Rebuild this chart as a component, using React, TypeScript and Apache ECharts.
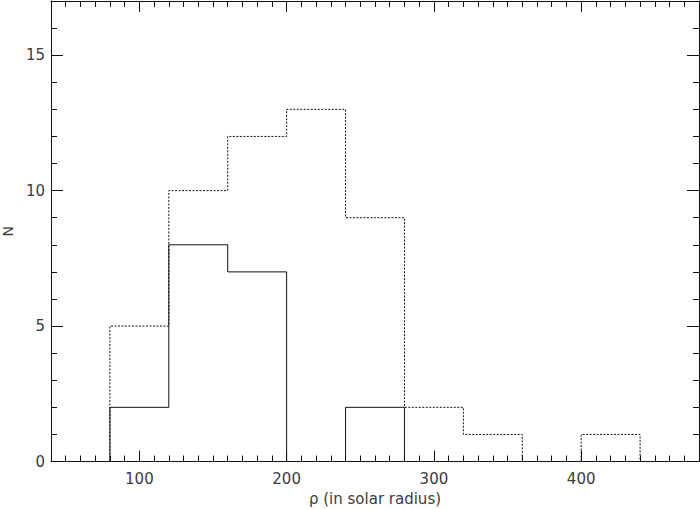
import React, { useEffect, useRef } from "react";
import * as echarts from "echarts";

// Histogram bin edges (solar radius) and counts
const binEdges = [80, 120, 160, 200, 240, 280, 320, 360, 400, 440];
const dottedCounts = [5, 10, 12, 13, 9, 2, 1, 0, 1];
const solidCounts = [2, 8, 7, 0, 2];

const xMajorTicks = [100, 200, 300, 400];
const xMinorTicks = [50, 60, 70, 80, 90, 110, 120, 130, 140, 150, 160, 170, 180, 190, 210, 220, 230, 240, 250, 260, 270, 280, 290, 310, 320, 330, 340, 350, 360, 370, 380, 390, 410, 420, 430, 440, 450, 460, 470];
const yMajorTicks = [0, 5, 10, 15];
const yMinorTicks = [1, 2, 3, 4, 6, 7, 8, 9, 11, 12, 13, 14, 16, 17];

const X_MIN = 40;
const X_MAX = 480;
const Y_MIN = 0;
const Y_MAX = 17;

function outline(edges: number[], counts: number[]): number[][] {
  const pts: number[][] = [[edges[0], 0]];
  counts.forEach((c, i) => {
    pts.push([edges[i], c]);
    pts.push([edges[i + 1], c]);
  });
  pts.push([edges[counts.length], 0]);
  return pts;
}

const FONT = "DejaVu Sans";
const TEXT = "#3c3c3c";
const AXIS = "#111";

function xAx(position: "top" | "bottom", major: boolean, main: boolean) {
  return {
    type: "value",
    position,
    min: X_MIN,
    max: X_MAX,
    splitLine: { show: false },
    axisLine: { show: major, onZero: false, lineStyle: { color: AXIS, width: 1 } },
    axisTick: {
      show: true,
      inside: true,
      length: major ? 11 : 6,
      customValues: major ? xMajorTicks : xMinorTicks,
      lineStyle: { color: AXIS, width: 1 },
    },
    axisLabel: main
      ? { show: true, customValues: xMajorTicks, margin: 10, color: TEXT, fontFamily: FONT, fontSize: 15 }
      : { show: false },
    name: main ? "ρ (in solar radius)" : "",
    nameLocation: "middle",
    nameGap: 30,
    nameTextStyle: { color: TEXT, fontFamily: FONT, fontSize: 15 },
  };
}

function yAx(position: "left" | "right", major: boolean, main: boolean) {
  return {
    type: "value",
    position,
    min: Y_MIN,
    max: Y_MAX,
    splitLine: { show: false },
    axisLine: { show: major, onZero: false, lineStyle: { color: AXIS, width: 1 } },
    axisTick: {
      show: true,
      inside: true,
      length: major ? 12 : 6,
      customValues: major ? yMajorTicks : yMinorTicks,
      lineStyle: { color: AXIS, width: 1 },
    },
    axisLabel: main
      ? { show: true, customValues: yMajorTicks, margin: 6, color: TEXT, fontFamily: FONT, fontSize: 15 }
      : { show: false },
    name: main ? "N" : "",
    nameLocation: "middle",
    nameGap: 35,
    nameTextStyle: { color: TEXT, fontFamily: FONT, fontSize: 14 },
  };
}

export default function App() {
  const ref = useRef<HTMLDivElement>(null);
  useEffect(() => {
    if (!ref.current) return;
    const chart = echarts.init(ref.current, undefined, { renderer: "svg" });
    chart.setOption({
      animation: false,
      backgroundColor: "#fff",
      grid: { left: 51, right: 1, top: 1, bottom: 47.5, containLabel: false, outerBoundsMode: "none" },
      xAxis: [xAx("bottom", true, true), xAx("bottom", false, false), xAx("top", true, false), xAx("top", false, false)],
      yAxis: [yAx("left", true, true), yAx("left", false, false), yAx("right", true, false), yAx("right", false, false)],
      series: [
        {
          type: "line",
          xAxisIndex: 0,
          yAxisIndex: 0,
          data: outline(binEdges, dottedCounts),
          showSymbol: false,
          symbol: "none",
          lineStyle: { color: "#111", width: 1, type: [2, 1.5] },
          z: 2,
        },
        {
          type: "line",
          xAxisIndex: 0,
          yAxisIndex: 0,
          data: outline(binEdges, solidCounts),
          showSymbol: false,
          symbol: "none",
          lineStyle: { color: "#111", width: 1, type: "solid" },
          z: 3,
        },
      ],
    });
    return () => chart.dispose();
  }, []);
  return (
    <div style={{ position: "absolute", left: 0, top: 0, width: 700, height: 509, background: "#fff" }}>
      <div ref={ref} style={{ width: 700, height: 509 }} />
    </div>
  );
}
